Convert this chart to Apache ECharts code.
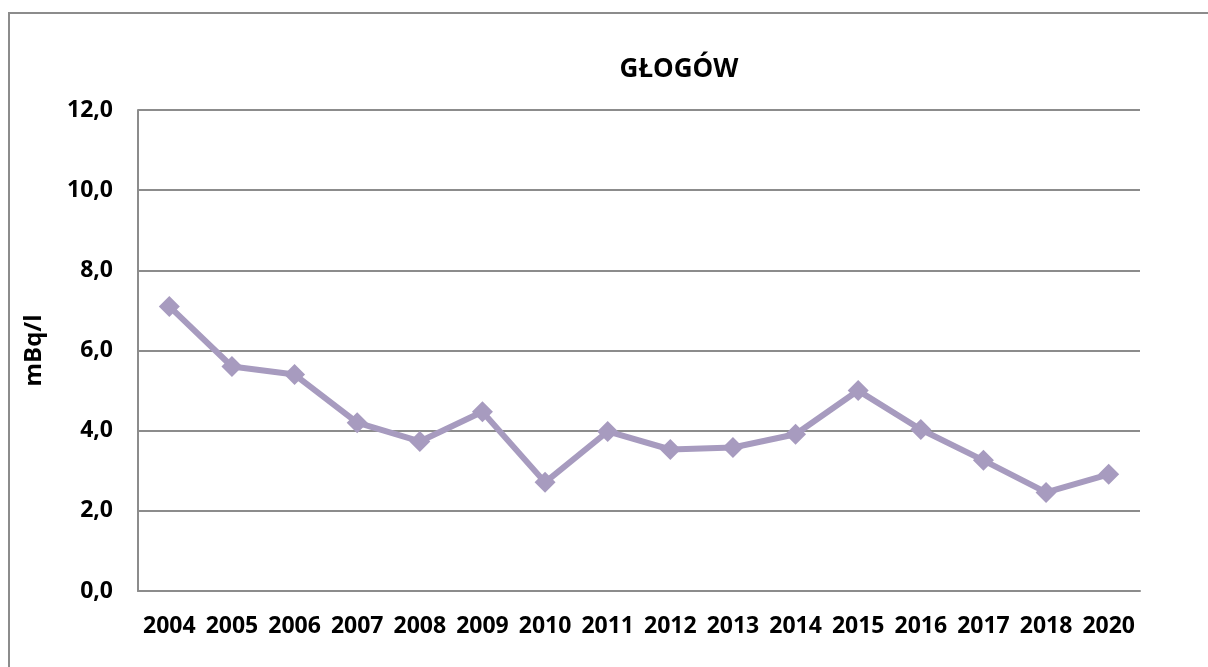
<!DOCTYPE html>
<html>
<head>
<meta charset="utf-8">
<script src="https://cdn.jsdelivr.net/npm/echarts@6/dist/echarts.min.js"></script>
<style>
  html, body { margin: 0; padding: 0; background: #fff; }
  #chart { width: 1208px; height: 667px; }
</style>
</head>
<body>
<div id="chart"></div>
<script>
// Annual values for Głogów, mBq/l
const years = ['2004', '2005', '2006', '2007', '2008', '2009', '2010', '2011',
               '2012', '2013', '2014', '2015', '2016', '2017', '2018', '2020'];
const values = [7.1, 5.6, 5.4, 4.2, 3.73, 4.47, 2.71, 3.98,
                3.53, 3.58, 3.91, 5.0, 4.03, 3.26, 2.46, 2.91];

const FONT = '"Open Sans", sans-serif';
const GRID_COLOR = '#8c8c8c';

const chart = echarts.init(document.getElementById('chart'), null, { renderer: 'canvas' });

chart.setOption({
  animation: false,
  backgroundColor: '#ffffff',
  title: {
    text: 'GŁOGÓW',
    left: 674,
    top: 52,
    textAlign: 'center',
    textStyle: { fontFamily: FONT, fontWeight: 'bold', fontSize: 26, color: '#000' }
  },
  graphic: [{
    type: 'rect',
    shape: { x: 9, y: 13, width: 1220, height: 680 },
    style: { fill: 'none', stroke: '#8c8c8c', lineWidth: 2 },
    silent: true
  }],
  grid: { left: 138, right: 68, top: 110, bottom: 76 },
  xAxis: {
    type: 'category',
    data: years,
    boundaryGap: true,
    axisLine: { show: true, lineStyle: { color: GRID_COLOR, width: 2 } },
    axisTick: { show: false },
    axisLabel: {
      interval: 0, margin: 24,
      fontFamily: FONT, fontWeight: 'bold', fontSize: 23, color: '#000'
    }
  },
  yAxis: {
    type: 'value',
    min: 0, max: 12, interval: 2,
    name: 'mBq/l',
    nameLocation: 'middle',
    nameGap: 92,
    nameRotate: 90,
    nameTextStyle: { fontFamily: FONT, fontWeight: 'bold', fontSize: 24, color: '#000' },
    axisLine: { show: true, lineStyle: { color: GRID_COLOR, width: 2 } },
    axisTick: { show: false },
    splitLine: { show: true, lineStyle: { color: GRID_COLOR, width: 2 } },
    axisLabel: {
      margin: 25,
      formatter: v => v.toFixed(1).replace('.', ','),
      fontFamily: FONT, fontWeight: 'bold', fontSize: 23, color: '#000'
    }
  },
  series: [{
    type: 'line',
    data: values,
    symbol: 'diamond',
    symbolSize: 21,
    lineStyle: { color: '#a79bbf', width: 6 },
    itemStyle: { color: '#a79bbf' }
  }]
});
</script>
</body>
</html>
